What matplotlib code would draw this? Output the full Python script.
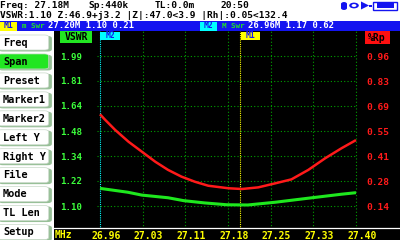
import matplotlib
matplotlib.use('Agg')
import matplotlib.pyplot as plt
from matplotlib.patches import Rectangle, FancyBboxPatch, Circle, Polygon
from matplotlib.lines import Line2D
from matplotlib.transforms import ScaledTranslation
from matplotlib.ticker import NullLocator
import numpy as np

# ---------------- data ----------------
freq_vswr = [26.96, 27.008, 27.032, 27.077, 27.104, 27.140, 27.178, 27.214, 27.261, 27.318, 27.375, 27.40]
vswr = [1.183, 1.165, 1.152, 1.140, 1.127, 1.117, 1.109, 1.108, 1.120, 1.138, 1.156, 1.163]

freq_rp = [26.96, 26.969, 26.986, 27.009, 27.032, 27.055, 27.077, 27.100, 27.123, 27.146,
           27.181, 27.204, 27.232, 27.261, 27.289, 27.318, 27.347, 27.375, 27.40]
rp = [0.642, 0.611, 0.556, 0.491, 0.436, 0.381, 0.336, 0.299, 0.271, 0.249,
      0.235, 0.231, 0.240, 0.262, 0.284, 0.336, 0.400, 0.455, 0.500]

freq_ticks = [26.96, 27.0333, 27.1067, 27.18, 27.2533, 27.3267, 27.40]
freq_labels = ["26.96", "27.03", "27.11", "27.18", "27.25", "27.33", "27.40"]
vswr_ticks = [1.10, 1.22, 1.34, 1.48, 1.64, 1.81, 1.99]
vswr_labels = ["1.10", "1.22", "1.34", "1.48", "1.64", "1.81", "1.99"]
rp_ticks = [0.1375, 0.275, 0.4125, 0.55, 0.6875, 0.825, 0.9625]
rp_labels = ["0.14", "0.28", "0.41", "0.55", "0.69", "0.83", "0.96"]

marker1_freq = 27.20
marker2_freq = 26.96

menu_items = ["Freq", "Span", "Preset", "Marker1", "Marker2", "Left Y",
              "Right Y", "File", "Mode", "TL Len", "Setup"]
active_item = "Span"

status_line1 = [("Freq: 27.18M", 0), ("Sp:440k", 88), ("TL:0.0m", 155), ("20:50", 220)]
status_line2 = "VSWR:1.10 Z:46.9+j3.2 |Z|:47.0<3.9 |Rh|:0.05<132.4"
m1_text = "27.20M 1.10 0.21"
m2_text = "26.96M 1.17 0.62"

# ---------------- style ----------------
plt.rcParams['font.family'] = ['DejaVu Sans Mono']
plt.rcParams['font.weight'] = 'bold'

W, H = 400, 240
fig = plt.figure(figsize=(4, 2.4), dpi=100, facecolor='black')

def fx(x):
    return x / W

def fy(y):
    return 1 - y / H

def rect(x0, y0, x1, y1, color, z=0, ec='none', lw=0):
    fig.patches.append(Rectangle((fx(x0), fy(y1)), fx(x1) - fx(x0), fy(y0) - fy(y1),
                                 transform=fig.transFigure, facecolor=color,
                                 edgecolor=ec, linewidth=lw, zorder=z))

def txt(x, y, s, color='black', size=7.2, ha='left', va='center', **kw):
    fig.text(fx(x), fy(y), s, color=color, fontsize=size, ha=ha, va=va,
             fontweight='bold', **kw)

GREEN = '#22e622'
GRID = '#00a000'
RED = '#ff1a1a'
BLUE = '#1414f0'
YELLOW = '#ffff00'
CYAN = '#00ffff'

# status area
rect(0, 0, 400, 21, 'white')
for s, x in status_line1:
    txt(x, 5.0, s, size=6.8)
txt(0, 15.0, status_line2, size=6.8)

# icons (top-right)
fig.patches.append(FancyBboxPatch((fx(341), fy(10)), fx(6), fy(2) - fy(10),
                                  boxstyle='round,pad=0,rounding_size=0.008',
                                  transform=fig.transFigure, fc=BLUE, ec='none'))
fig.patches.append(Circle((fx(354), fy(5.5)), 0.012, transform=fig.transFigure,
                          fc=BLUE, ec='none'))
fig.patches.append(Circle((fx(354), fy(5.5)), 0.006, transform=fig.transFigure,
                          fc='white', ec='none'))
fig.patches.append(Polygon([(fx(361), fy(1.5)), (fx(361), fy(9.5)), (fx(369), fy(5.5))],
                           closed=True, transform=fig.transFigure, fc=BLUE, ec='none'))
rect(369, 4.5, 372, 6.5, BLUE)
rect(373, 1.5, 397, 9.5, 'white', ec=BLUE, lw=1.0)
rect(377, 3.5, 394, 7.5, BLUE)

# blue marker bar
rect(0, 21, 400, 31, BLUE)
rect(0, 21.5, 17, 30.5, YELLOW, z=1)
txt(8.5, 26, "M1", color=BLUE, size=5.8, ha='center')
txt(22, 26.5, "m Swr", color=GREEN, size=5.4)
txt(48, 26, m1_text, color='white', size=6.4)
rect(200, 21.5, 217, 30.5, CYAN, z=1)
txt(208.5, 26, "M2", color=BLUE, size=5.8, ha='center')
txt(222, 26.5, "M Swr", color=GREEN, size=5.4)
txt(248, 26, m2_text, color='white', size=6.4)

# left menu
rect(0, 31, 53.5, 240, 'white')
for i, item in enumerate(menu_items):
    top = 35 + 18.95 * i
    fc = GREEN if item == active_item else 'white'
    fig.patches.append(FancyBboxPatch((fx(-3) + 0.004, fy(top + 16.5)), fx(56.5) - 0.008,
                                      fy(top) - fy(top + 16.5) - 0.004,
                                      boxstyle='round,pad=0,rounding_size=0.01',
                                      transform=fig.transFigure, fc='#98c098', ec='none', zorder=1))
    fig.patches.append(FancyBboxPatch((fx(-3) + 0.001, fy(top + 15)), fx(54.5) - 0.008,
                                      fy(top) - fy(top + 15),
                                      boxstyle='round,pad=0,rounding_size=0.01',
                                      transform=fig.transFigure, fc=fc, ec='#c8d8c8',
                                      lw=0.5, zorder=2))
    fig.text(fx(3), fy(top + 7.8), item, color='black', fontsize=7.4, ha='left',
             va='center', fontweight='bold', zorder=3)

# ---------------- plot ----------------
px_per_mhz = 256 / 0.44
ax_left, ax_right, ax_top, ax_bot = 96, 360, 31, 229
ax = fig.add_axes([fx(ax_left), fy(ax_bot), fx(ax_right) - fx(ax_left), fy(ax_top) - fy(ax_bot)])
ax.set_facecolor('black')
ax.set_xlim(26.96 - (100 - ax_left) / px_per_mhz, 27.40 + (ax_right - 356) / px_per_mhz)
k = 0.7167
rp_lim = (0.011, 1.1)
ax.set_yscale('log')
ax.set_ylim(np.exp(rp_lim[0] * k), np.exp(rp_lim[1] * k))
ax2 = ax.twinx()
ax2.set_ylim(*rp_lim)
ax2.set_xlim(ax.get_xlim())

for a in (ax, ax2):
    for sp in a.spines.values():
        sp.set_visible(False)

ax.set_yticks(vswr_ticks, labels=vswr_labels)
ax.yaxis.set_minor_locator(NullLocator())
ax.tick_params(axis='y', length=0, pad=10, labelcolor='#3cff3c', labelsize=6.6)
ax2.set_yticks(rp_ticks, labels=rp_labels)
ax2.tick_params(axis='y', length=0, pad=4.3, labelcolor=RED, labelsize=6.8)
ax.set_xticks(freq_ticks, labels=freq_labels)
ax.tick_params(axis='x', length=0, pad=1.2, labelcolor=YELLOW, labelsize=7.0)
for lab in ax.get_xticklabels():
    lab.set_fontweight('bold')
    lab.set_transform(lab.get_transform() + ScaledTranslation(6 / 100, 0, fig.dpi_scale_trans))
for lab in ax.get_yticklabels() + ax2.get_yticklabels():
    lab.set_fontweight('bold')

# grid
dot = (0, (1, 2))
for f in freq_ticks[1:]:
    ax.axvline(f, color=GRID, lw=0.8, ls=dot, zorder=1)
ax2.hlines(rp_ticks, 26.955, 27.401, colors=GRID, lw=0.8, linestyles=[dot], zorder=1)

# markers
ax.axvline(marker2_freq, color=CYAN, lw=0.8, ls=(0, (1, 1)), zorder=2)
ax.axvline(marker1_freq, color=YELLOW, lw=0.8, ls=(0, (1, 1)), zorder=2)

# curves
ax.plot(freq_vswr, vswr, color='#1ee81e', lw=2.2, zorder=3, solid_capstyle='butt')
ax2.plot(freq_rp, rp, color=RED, lw=1.8, zorder=3, solid_capstyle='butt')

# labels over plot area
rect(60, 31, 92, 43, GREEN, z=5)
txt(76, 37.5, "VSWR", color='black', size=7.0, ha='center', zorder=6)
rect(100, 31.5, 120, 40, CYAN, z=5)
txt(110, 36, "M2", color=BLUE, size=5.8, ha='center', zorder=6)
rect(241, 31.5, 260, 40, YELLOW, z=5)
txt(250.5, 36, "M1", color=BLUE, size=5.8, ha='center', zorder=6)
rect(365, 31, 389.5, 43.5, '#ff1010', z=5)
txt(377, 37.5, "%Rp", color='black', size=7.0, ha='center', zorder=6)

# bottom separator & units
fig.add_artist(Line2D([fx(53.5), fx(400)], [fy(228.3), fy(228.3)], color='white',
                      lw=0.9, transform=fig.transFigure, zorder=10))
txt(55, 234.5, "MHz", color=YELLOW, size=7.0)

fig.savefig('out.png', dpi=100, facecolor='black')
